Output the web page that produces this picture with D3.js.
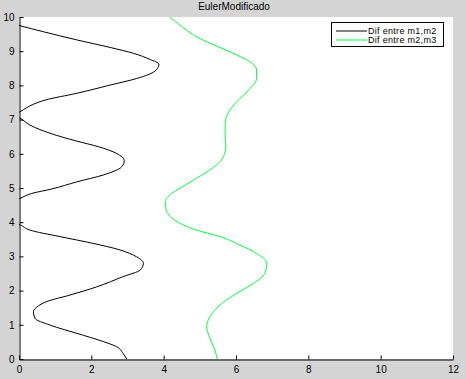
<!DOCTYPE html>
<html>
<head>
<meta charset="utf-8">
<script src="https://cdn.jsdelivr.net/npm/d3@7"></script>
<style>
body { margin: 0; background: #d4d4d4; }
text { font-family: "Liberation Sans", Arial, sans-serif; }
</style>
</head>
<body>
<div id="svg"></div>
<script>
var width = 466;
var height = 379;

var title = 'EulerModificado';
var seriesNames = ['Dif entre m1,m2', 'Dif entre m2,m3'];
var xTicks = [0, 2, 4, 6, 8, 10, 12];
var yTicks = [0, 1, 2, 3, 4, 5, 6, 7, 8, 9, 10];

// black series: t (vertical) and value (horizontal)
var t1 = [0.0, 0.16, 0.36, 0.51, 0.75, 0.99, 1.19, 1.38, 1.55, 1.68, 1.87, 2.11, 2.41, 2.60, 2.80, 2.99, 3.19, 3.38, 3.58, 3.77, 3.92, 4.3, 4.70, 4.84, 4.97, 5.18, 5.38, 5.62, 5.80, 6.01, 6.21, 6.37, 6.60, 6.84, 7.04, 7.13, 7.23, 7.45, 7.57, 7.77, 8.01, 8.20, 8.42, 8.62, 8.76, 8.94, 9.11, 9.33, 9.57, 9.745, 10.0];
var v1 = [2.98, 2.88, 2.70, 2.33, 1.60, 0.86, 0.44, 0.40, 0.53, 0.77, 1.41, 2.15, 2.88, 3.35, 3.44, 3.25, 2.79, 2.05, 1.13, 0.30, 0.03, -1.2, 0.03, 0.35, 0.90, 1.60, 2.33, 2.84, 2.91, 2.70, 2.19, 1.60, 0.86, 0.30, 0.03, -0.15, 0.03, 0.40, 0.72, 1.60, 2.52, 3.25, 3.76, 3.87, 3.62, 3.16, 2.52, 1.60, 0.67, 0.03, -0.8];

// green series
var t2 = [0.0, 0.26, 0.60, 0.94, 1.24, 1.58, 1.92, 2.21, 2.51, 2.80, 3.09, 3.33, 3.58, 3.77, 4.06, 4.41, 4.60, 4.84, 4.96, 5.23, 5.53, 5.82, 6.21, 6.50, 6.89, 7.28, 7.52, 7.91, 8.20, 8.45, 8.69, 8.89, 9.15, 9.37, 9.72, 10.0];
var v2 = [5.48, 5.42, 5.28, 5.19, 5.28, 5.56, 6.02, 6.48, 6.80, 6.85, 6.57, 6.11, 5.56, 4.91, 4.31, 4.06, 4.05, 4.22, 4.40, 4.82, 5.28, 5.60, 5.72, 5.70, 5.70, 5.83, 6.02, 6.39, 6.57, 6.57, 6.39, 6.02, 5.47, 5.00, 4.50, 4.17];

var colors = ['#000000', '#00ff40'];

var plotLeft = 19, plotRight = 453, plotTop = 17, plotBottom = 359;

var canvas = d3.select('#svg')
	.append('svg')
	.attr('width', width)
	.attr('height', height);

function main()
{
	canvas.append('rect')
		.attr('width', width).attr('height', height)
		.attr('fill', '#d4d4d4');

	canvas.append('rect')
		.attr('x', plotLeft).attr('y', plotTop)
		.attr('width', plotRight - plotLeft).attr('height', plotBottom - plotTop)
		.attr('fill', '#ffffff');

	var x = d3.scaleLinear().domain([0, 12]).range([plotLeft, plotRight]);
	var y = d3.scaleLinear().domain([0, 10]).range([plotBottom, plotTop]);

	canvas.append('clipPath').attr('id', 'clip')
		.append('rect')
		.attr('x', plotLeft).attr('y', plotTop)
		.attr('width', plotRight - plotLeft).attr('height', plotBottom - plotTop);

	var line = d3.line()
		.x((d) => x(d[0]))
		.y((d) => y(d[1]))
		.curve(d3.curveMonotoneY);

	var data = [d3.zip(v1, t1), d3.zip(v2, t2)];
	canvas.append('g').attr('clip-path', 'url(#clip)')
		.selectAll('path')
		.data(data)
		.enter().append('path')
			.attr('d', line)
			.attr('fill', 'none')
			.attr('stroke', (d, i) => colors[i])
			.attr('stroke-width', 1);

	// axes with inward ticks, box off
	var xAxis = d3.axisBottom(x).tickValues(xTicks).tickSizeInner(-4).tickSizeOuter(0).tickPadding(8);
	var gx = canvas.append('g')
		.attr('transform', 'translate(0,' + (plotBottom + 0.5) + ')')
		.call(xAxis);

	var yAxis = d3.axisLeft(y).tickValues(yTicks).tickSizeInner(-4).tickSizeOuter(0).tickPadding(7);
	var gy = canvas.append('g')
		.attr('transform', 'translate(' + (plotLeft + 0.5) + ',0)')
		.call(yAxis);

	[gx, gy].forEach((g) => {
		g.select('.domain').attr('stroke', '#000');
		g.selectAll('line').attr('stroke', '#000');
		g.selectAll('text').attr('fill', '#000')
			.style('font-size', '10px');
	});
	gx.selectAll('text').attr('dy', '0.55em');
	gy.selectAll('text').attr('dx', '2px');

	canvas.append('text')
		.attr('x', 234).attr('y', 10)
		.attr('text-anchor', 'middle')
		.style('font-size', '10px')
		.text(title);

	// legend
	var lg = canvas.append('g');
	lg.append('rect')
		.attr('x', 331.5).attr('y', 22.5)
		.attr('width', 112).attr('height', 24)
		.attr('fill', '#fff').attr('stroke', '#000');
	seriesNames.forEach((name, i) => {
		var yy = 30.5 + i * 9;
		lg.append('line')
			.attr('x1', 336).attr('x2', 367)
			.attr('y1', yy + 0.5).attr('y2', yy + 0.5)
			.attr('stroke', colors[i]);
		lg.append('text')
			.attr('x', 368).attr('y', yy + 3.5)
			.style('font-size', '9px')
			.style('letter-spacing', '0.3px')
			.text(name);
	});
}

main();
</script>
</body>
</html>
